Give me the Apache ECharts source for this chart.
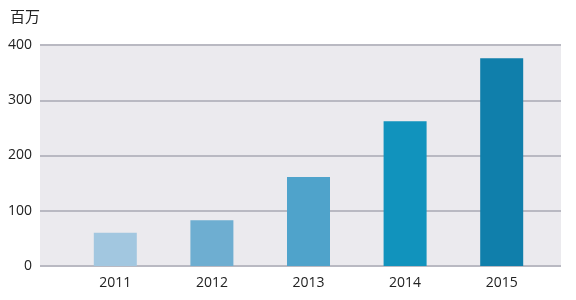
<!DOCTYPE html>
<html><head><meta charset="utf-8">
<script src="https://cdn.jsdelivr.net/npm/echarts@6/dist/echarts.min.js"></script>
<style>html,body{margin:0;padding:0;background:#fff}#c{width:576px;height:300px}</style>
</head><body><div id="c"></div>
<script>
const categories = ['2011','2012','2013','2014','2015'];
const values = [60, 83, 161, 262, 376];
const barColors = ['#a2c7e0','#6eaed1','#4fa3cb','#1193bd','#107fab'];
const yTicks = [0,100,200,300,400];

const chart = echarts.init(document.getElementById('c'), null, {renderer:'canvas'});
chart.setOption({
  animation:false,
  grid:[
    {left:40,right:15,top:45,bottom:34,show:true,backgroundColor:'#ebeaee',borderWidth:0},
    {left:67,right:26,top:45,bottom:34}
  ],
  xAxis:[
    {gridIndex:0,type:'category',data:categories,show:false},
    {gridIndex:1,type:'category',data:categories,
     axisLine:{show:false},axisTick:{show:false},
     axisLabel:{color:'#222',fontSize:14,margin:10,fontFamily:'Open Sans'}}
  ],
  yAxis:[
    {gridIndex:0,type:'value',min:0,max:400,interval:100,
     axisLine:{show:false},axisTick:{show:false},
     axisLabel:{color:'#222',fontSize:14,margin:8,fontFamily:'Open Sans'},
     splitLine:{lineStyle:{color:'#b9b9c2',width:2}},
     name:'百万',nameLocation:'end',nameGap:21,
     nameTextStyle:{color:'#222',fontSize:15,align:'left',padding:[0,0,0,-30],fontFamily:'Noto Sans CJK SC'}},
    {gridIndex:1,type:'value',min:0,max:400,interval:100,show:false,splitLine:{show:false}}
  ],
  series:[{
    type:'bar',xAxisIndex:1,yAxisIndex:1,barWidth:43,
    data:values.map((v,i)=>({value:v,itemStyle:{color:barColors[i]}}))
  }]
});
</script></body></html>
